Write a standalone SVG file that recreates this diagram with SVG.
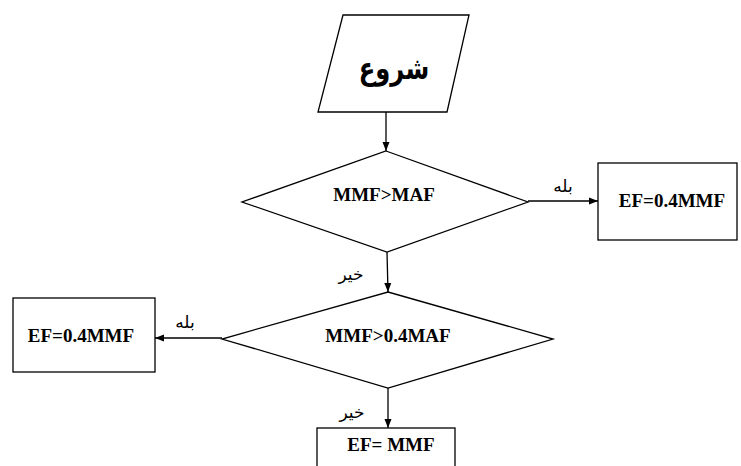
<svg xmlns="http://www.w3.org/2000/svg" width="741" height="466" viewBox="0 0 741 466">
<style>
.s{fill:#fff;stroke:#000;stroke-width:1.3}
.c{fill:none;stroke:#000;stroke-width:1.3}
.t{font-family:"Liberation Serif","Times New Roman",serif;font-weight:bold;font-size:19px;text-anchor:middle;fill:#000}
.a{font-family:"DejaVu Sans",sans-serif;font-size:17px;text-anchor:middle;fill:#000}
</style>
<defs>
<marker id="ah" markerWidth="9" markerHeight="8" refX="9" refY="4" orient="auto" markerUnits="userSpaceOnUse">
<path d="M0,0.5 L9,4 L0,7.5 Z" fill="#000"/>
</marker>
</defs>
<rect width="741" height="466" fill="#fff"/>
<g id="connectors">
<line class="c" x1="386" y1="112" x2="386" y2="151" marker-end="url(#ah)"/>
<line class="c" x1="528" y1="201" x2="598" y2="201" marker-end="url(#ah)"/>
<line class="c" x1="387" y1="252" x2="388" y2="292" marker-end="url(#ah)"/>
<line class="c" x1="222" y1="338" x2="155" y2="338" marker-end="url(#ah)"/>
<line class="c" x1="388" y1="388" x2="388" y2="428" marker-end="url(#ah)"/>
<text class="a" x="563" y="192">بله</text>
<text class="a" x="185" y="328">بله</text>
<text class="a" x="351" y="280">خیر</text>
<text class="a" x="352" y="418">خیر</text>
</g>
<g id="start">
<polygon class="s" points="343,15 469,15 447,112 318,112"/>
<text transform="translate(394,79) scale(0.78,1)" font-family="DejaVu Sans,sans-serif" font-weight="bold" font-size="31" text-anchor="middle">شروع</text>
</g>
<g id="decision1">
<polygon class="s" points="386,151 528,202 387,252 242,202"/>
<text class="t" x="384" y="201">MMF&gt;MAF</text>
</g>
<g id="result1">
<rect class="s" x="598" y="163" width="139" height="77"/>
<text class="t" x="672" y="207">EF=0.4MMF</text>
</g>
<g id="decision2">
<polygon class="s" points="388,292 553,339 388,388 222,339"/>
<text class="t" x="388" y="342">MMF&gt;0.4MAF</text>
</g>
<g id="result2">
<rect class="s" x="13" y="298" width="142" height="74"/>
<text class="t" x="81" y="342">EF=0.4MMF</text>
</g>
<g id="result3">
<rect class="s" x="317" y="428" width="138" height="50"/>
<text class="t" x="391" y="451">EF= MMF</text>
</g>
</svg>
